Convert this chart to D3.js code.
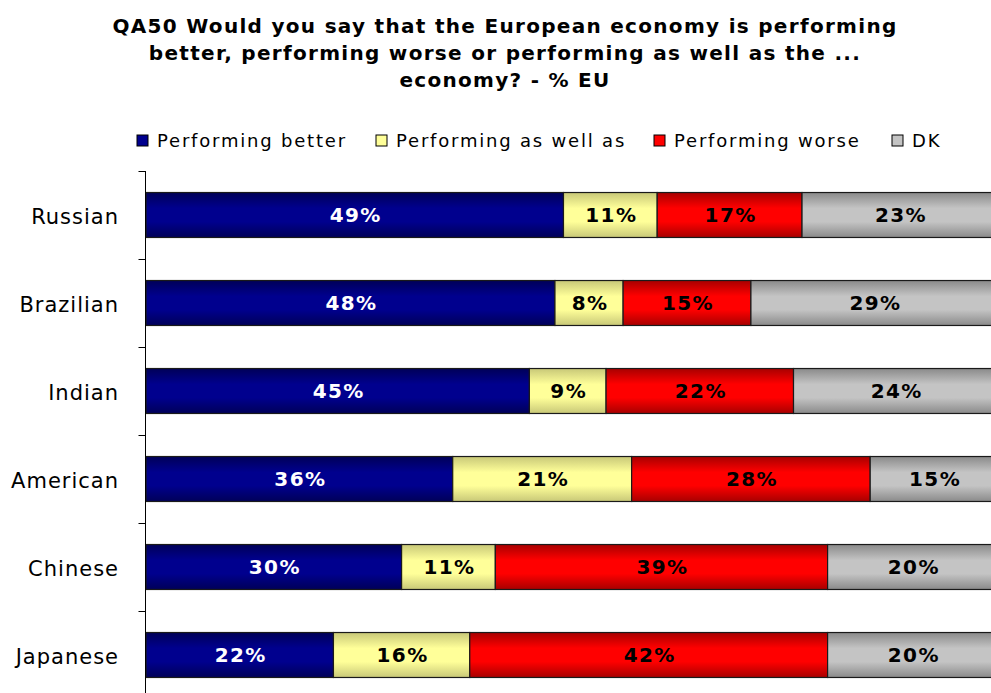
<!DOCTYPE html>
<html>
<head>
<meta charset="utf-8">
<script src="https://cdn.jsdelivr.net/npm/d3@7/dist/d3.min.js"></script>
<style>
  html, body { margin: 0; padding: 0; background: #ffffff; }
  svg { display: block; }
</style>
</head>
<body>
<svg id="chart" width="991" height="693"></svg>
<script>
// ---- data ----
const categories = ["Russian", "Brazilian", "Indian", "American", "Chinese", "Japanese"];
const seriesNames = ["Performing better", "Performing as well as", "Performing worse", "DK"];
const better   = [49, 48, 45, 36, 30, 22];
const asWellAs = [11, 8, 9, 21, 11, 16];
const worse    = [17, 15, 22, 28, 39, 42];
const dk       = [23, 29, 24, 15, 20, 20];
const titleLines = [
  "QA50 Would you say that the European economy is performing",
  "better, performing worse or performing as well as the ...",
  "economy? - % EU"
];

// ---- styles ----
const colorsMid  = ["#00008e", "#ffff99", "#ff0000", "#c4c4c4"];
const colorsEdge = ["#000058", "#c8c878", "#a80000", "#8a8a8a"];
const labelColors = ["#ffffff", "#000000", "#000000", "#000000"];

const seriesValues = [better, asWellAs, worse, dk];
const rows = categories.map((c, i) => {
  const r = { category: c };
  seriesNames.forEach((s, j) => r[s] = seriesValues[j][i]);
  return r;
});
const stacked = d3.stack().keys(seriesNames)(rows);

const svg = d3.select("#chart");

// gradients
const defs = svg.append("defs");
seriesNames.forEach((s, j) => {
  const g = defs.append("linearGradient")
    .attr("id", "grad" + j)
    .attr("x1", 0).attr("y1", 0).attr("x2", 0).attr("y2", 1);
  g.append("stop").attr("offset", "0%").attr("stop-color", colorsEdge[j]);
  g.append("stop").attr("offset", "35%").attr("stop-color", colorsMid[j]);
  g.append("stop").attr("offset", "65%").attr("stop-color", colorsMid[j]);
  g.append("stop").attr("offset", "100%").attr("stop-color", colorsEdge[j]);
});

// title
svg.append("g").selectAll("text")
  .data(titleLines).enter().append("text")
  .attr("x", 505)
  .attr("y", (d, i) => 33 + i * 27)
  .attr("text-anchor", "middle")
  .style("font-family", "'DejaVu Sans', Verdana, sans-serif")
  .style("font-weight", "bold")
  .style("font-size", "20px")
  .style("letter-spacing", "1.3px")
  .attr("fill", "#000")
  .text(d => d);

// legend
const legendX = [137, 376, 654, 892];
const legend = svg.append("g").selectAll("g")
  .data(seriesNames).enter().append("g")
  .attr("transform", (d, i) => `translate(${legendX[i]},0)`);
legend.append("rect")
  .attr("x", 0).attr("y", 135).attr("width", 11).attr("height", 11)
  .attr("fill", (d, i) => colorsMid[i])
  .attr("stroke", "#000").attr("stroke-width", 1);
legend.append("text")
  .attr("x", 20).attr("y", 147)
  .style("font-family", "'DejaVu Sans', Verdana, sans-serif")
  .style("font-size", "18px")
  .style("letter-spacing", "1.8px")
  .attr("fill", "#000")
  .text(d => d);

// scales
const x = d3.scaleLinear().domain([0, 100]).range([146, 998]);
const y = d3.scaleBand().domain(categories).range([171, 699])
  .paddingInner(0.489).paddingOuter(0.2445);

// bars
const layers = svg.append("g").selectAll("g")
  .data(stacked).enter().append("g")
  .attr("fill", (d, i) => `url(#grad${i})`);
layers.selectAll("rect")
  .data(d => d).enter().append("rect")
  .attr("x", d => x(d[0]))
  .attr("y", d => y(d.data.category))
  .attr("width", d => x(d[1]) - x(d[0]))
  .attr("height", y.bandwidth())
  .attr("stroke", "#1a1a1a")
  .attr("stroke-width", 1.2);

// value labels
const labelLayers = svg.append("g").selectAll("g")
  .data(stacked).enter().append("g")
  .attr("fill", (d, i) => labelColors[i]);
labelLayers.selectAll("text")
  .data(d => d).enter().append("text")
  .attr("x", d => (x(d[0]) + x(d[1])) / 2 + 1)
  .attr("y", d => y(d.data.category) + y.bandwidth() / 2)
  .attr("dy", "0.36em")
  .attr("text-anchor", "middle")
  .style("font-family", "'DejaVu Sans', Verdana, sans-serif")
  .style("font-weight", "bold")
  .style("font-size", "20px")
  .style("letter-spacing", "1.4px")
  .text(d => (d[1] - d[0]) + "%");

// y axis
const yAxisScale = d3.scalePoint().domain(d3.range(7)).range([171, 699]);
const axisG = svg.append("g").attr("transform", "translate(145.5,0)");
axisG.append("line")
  .attr("x1", 0).attr("x2", 0).attr("y1", 171).attr("y2", 699)
  .attr("stroke", "#000").attr("stroke-width", 1);
axisG.selectAll("line.tick")
  .data(yAxisScale.domain()).enter().append("line")
  .attr("class", "tick")
  .attr("x1", -7).attr("x2", 0)
  .attr("y1", d => Math.round(yAxisScale(d)) + 0.5)
  .attr("y2", d => Math.round(yAxisScale(d)) + 0.5)
  .attr("stroke", "#000").attr("stroke-width", 1);

// category labels
svg.append("g").selectAll("text")
  .data(categories).enter().append("text")
  .attr("x", 119)
  .attr("y", d => y(d) + y.bandwidth() / 2 + 1)
  .attr("dy", "0.36em")
  .attr("text-anchor", "end")
  .style("font-family", "'DejaVu Sans', Verdana, sans-serif")
  .style("font-size", "21px")
  .style("letter-spacing", "1px")
  .attr("fill", "#000")
  .text(d => d);
</script>
</body>
</html>
